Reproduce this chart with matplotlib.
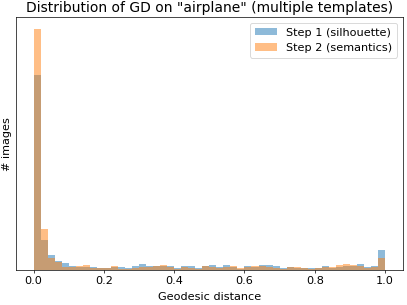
import numpy as np
import matplotlib
matplotlib.use("Agg")
import matplotlib.pyplot as plt

# Histogram bin edges (50 bins over [0, 1]) and per-bin counts
bin_edges = np.linspace(0.0, 1.0, 51)

step1_silhouette = [194, 29, 15, 9, 7, 3.5, 3, 3, 3, 2,
                    2, 2.3, 2.3, 1.7, 3.3, 6, 3.3, 4, 3.7, 4,
                    2, 4, 4, 1.7, 4, 5, 2.3, 5, 2.3, 1,
                    4, 2.7, 4.3, 5, 3.3, 1.7, 3, 1.7, 1.3, 1.7,
                    1.3, 3.3, 1.7, 2.3, 4, 4, 5.3, 3, 4, 19.7]

step2_semantics = [239.7, 40.7, 11.7, 8, 3, 3, 3.5, 5, 1.5, 1.5,
                   1.7, 3.7, 1, 1, 1.7, 3, 3, 3.3, 5, 2.3,
                   1, 2.3, 2, 1, 3.3, 3, 1.7, 2.3, 3.3, 1.7,
                   2.3, 3.3, 3.3, 3, 1.7, 1, 2.3, 2.3, 1.3, 1,
                   1.7, 2.3, 2.3, 4.3, 6, 4.7, 3.3, 1.7, 2.7, 11.7]

labels = ["Step 1 (silhouette)", "Step 2 (semantics)"]
title = 'Distribution of GD on "airplane" (multiple templates)'
xlabel = "Geodesic distance"
ylabel = "# images"

centers = (bin_edges[:-1] + bin_edges[1:]) / 2

plt.rcParams["font.size"] = 12.8
plt.rcParams["axes.titlesize"] = 15.8

fig = plt.figure(figsize=(6.4, 4.8), dpi=63.6)
ax = fig.add_axes([16 / 407, 1 - 268.7 / 304, (402.6 - 16) / 407, (268.7 - 17.5) / 304])
ax.hist(centers, bins=bin_edges, weights=step1_silhouette, alpha=0.5, label=labels[0])
ax.hist(centers, bins=bin_edges, weights=step2_semantics, alpha=0.5, label=labels[1])
ax.set_yticks([])
ax.set_title(title)
ax.set_xlabel(xlabel, labelpad=7)
ax.set_ylabel(ylabel)
ax.legend(loc="upper right")
fig.savefig("out.png", dpi=63.6)
